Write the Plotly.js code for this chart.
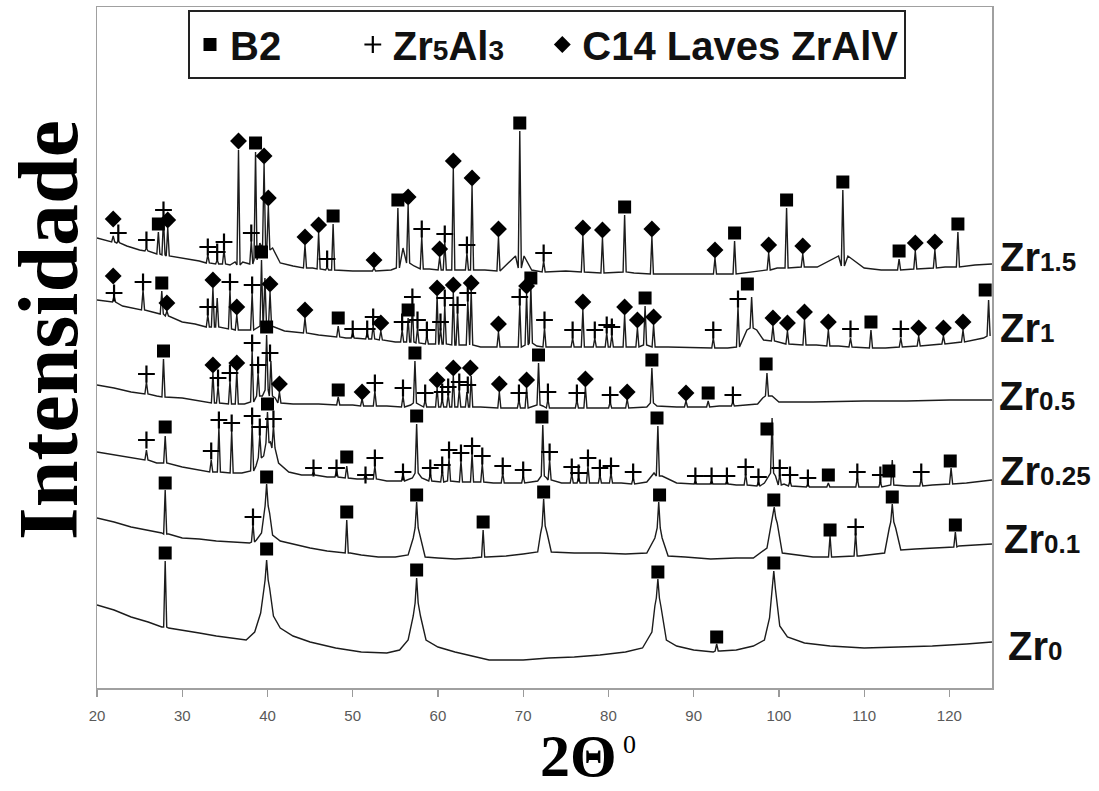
<!DOCTYPE html>
<html>
<head>
<meta charset="utf-8">
<script src="https://cdn.plot.ly/plotly-3.0.1.min.js"></script>
<style>html,body{margin:0;padding:0;background:#fff;}#chart{width:1099px;height:791px;}</style>
</head>
<body>
<div id="chart"></div>
<script>
// ---------------- DATA (intensity in arbitrary units) ----------------
const xTicks = [20, 30, 40, 50, 60, 70, 80, 90, 100, 110, 120];
const sampleNames = ["Zr<span style='font-size:26px'>1.5</span>", "Zr<span style='font-size:26px'>1</span>", "Zr<span style='font-size:26px'>0.5</span>", "Zr<span style='font-size:26px'>0.25</span>", "Zr<span style='font-size:26px'>0.1</span>", "Zr<span style='font-size:26px'>0</span>"];
const sampleLabelY = [431, 360, 292, 217, 149, 42];
const sampleLabelX = [998, 998, 997, 998, 1002, 1006];
const phaseNames = ["B2", "Zr<span style='font-size:28px'>5</span>Al<span style='font-size:28px'>3</span>", "C14 Laves ZrAlV"];

// Zr0
const zr0_bx = [20, 22, 24, 26, 27.6, 28.4, 30, 32, 34, 36, 37.5, 38.5, 39.2, 39.6, 40.25, 40.7, 41.5, 43, 45, 48, 51, 54, 55.5, 56.5, 57.1, 57.95, 58.6, 60, 62, 64, 66, 68, 70, 73, 76, 79, 82, 84, 85.1, 85.45, 86.15, 86.8, 88, 90, 92.3, 93.1, 95, 97, 98.3, 98.9, 99.15, 99.65, 100.1, 101, 103, 106, 110, 114, 118, 122, 125];
const zr0_by = [83, 78, 71, 66, 61, 60, 58, 55, 52, 50, 48, 56, 75, 100, 100, 72, 60, 52, 46, 40, 36, 35, 38, 48, 72, 72, 48, 41, 36, 32, 28, 28, 28, 30, 31, 33, 36, 40, 56, 82, 82, 48, 42, 38, 36, 37, 38, 42, 48, 70, 95, 95, 62, 51, 45, 42, 40, 41, 42, 44, 46];
const zr0_px = [28.0, 39.9, 57.5, 85.8, 92.7, 99.4];
const zr0_pt = [127, 128, 110, 109, 44, 117];
const zr0_pf = [61, 108, 85, 90, 37, 100];
const zr0_B2 = [[28.0, 135], [39.9, 139], [57.5, 118], [85.8, 116], [92.7, 51], [99.4, 125]];
const zr0_Zr5Al3 = [];
const zr0_C14 = [];

// Zr0.1
const zr01_bx = [20, 22, 24, 26, 27.6, 28.4, 30, 32, 34, 36, 37.9, 38.7, 39.3, 39.6, 40.25, 40.6, 41.5, 43, 45, 47, 48.9, 49.7, 51, 53, 55, 56.5, 57.1, 57.95, 58.5, 60, 62, 64, 64.9, 65.7, 68, 70, 71.7, 72.05, 72.8, 73.3, 76, 79, 82, 84.5, 85.45, 86.3, 87, 89, 92, 95, 97, 98.6, 99.1, 99.8, 100.4, 102, 104, 105.6, 106.4, 108.6, 109.4, 111, 112.4, 112.95, 113.7, 114.3, 116, 118, 120.3, 121.1, 123, 125];
const zr01_by = [170, 166, 161, 158, 155, 154, 150, 149, 147, 146, 145, 148, 155, 175, 175, 153, 147, 144, 140, 137, 135, 135, 133, 131, 131, 133, 150, 150, 131, 130, 129, 130, 131, 131, 132, 134, 136, 155, 155, 136, 135, 135, 134, 135, 150, 150, 132, 131, 129, 130, 130, 140, 165, 165, 135, 133, 131, 131, 131, 132, 132, 134, 135, 160, 160, 138, 139, 140, 141, 142, 143, 144];
const zr01_px = [28.0, 38.3, 39.9, 49.3, 57.5, 65.3, 72.4, 85.9, 99.45, 106.0, 109.0, 113.3, 120.7];
const zr01_pt = [198, 164, 204, 168, 186, 158, 189, 186, 181, 152, 155, 184, 156];
const zr01_pf = [154, 146, 182, 135, 160, 131, 162, 160, 170, 131, 132, 166, 141];
const zr01_B2 = [[28.0, 205], [39.9, 211], [49.3, 176], [57.5, 193], [65.3, 166], [72.4, 196], [86.0, 193], [99.4, 188], [106.0, 158], [113.3, 191], [120.7, 163]];
const zr01_Zr5Al3 = [[38.3, 171], [109.0, 161]];
const zr01_C14 = [];

// Zr0.25
const zr025_bx = [20, 22, 24, 27, 30, 32, 37, 38.65, 39.55, 40.35, 41.3, 42.5, 44, 47, 50.5, 54, 57.0, 58.1, 63.4, 66.5, 69, 71.7, 72.75, 74.5, 78.3, 81.5, 84.5, 85.35, 86.3, 88, 91, 95, 98.3, 98.85, 99.6, 100.6, 104.5, 107.5, 110.5, 115, 118, 122, 125];
const zr025_by = [236, 233, 230, 225, 221, 218, 215, 222, 232, 246, 225, 216, 213, 211, 209, 207, 210, 210, 206, 205, 205, 207, 210, 205, 205, 205, 206, 215, 212, 205, 204, 203, 205, 212, 212, 204, 201, 201, 201, 202, 203, 205, 208];
const zr025_px = [25.8, 28.0, 33.4, 34.3, 35.8, 38.2, 39.1, 40.0, 40.7, 45.4, 48.1, 49.3, 51.5, 52.6, 55.9, 57.5, 59.1, 60.5, 61.3, 62.7, 64.0, 65.2, 67.6, 70.0, 72.3, 73.1, 75.7, 76.5, 77.6, 79.0, 80.3, 82.9, 85.8, 90.2, 92.1, 93.9, 96.1, 97.6, 99.2, 100.1, 101.3, 103.4, 105.8, 109.2, 111.9, 113.3, 116.7, 120.2];
const zr025_pt = [238, 252, 228, 260, 257, 264, 253, 276, 262, 216, 217, 222, 214, 222, 214, 264, 214, 218, 230, 227, 234, 224, 215, 212, 263, 228, 214, 210, 222, 213, 215, 210, 262, 207, 207, 207, 214, 206, 270, 214, 207, 204, 205, 210, 206, 228, 209, 220];
const zr025_pf = [228, 225, 216, 216, 215, 217, 230, 245, 240, 213, 211, 210, 209, 209, 207, 215, 207, 206, 207, 206, 206, 206, 205, 205, 212, 208, 205, 205, 205, 205, 205, 204, 212, 204, 204, 204, 203, 202, 215, 203, 202, 201, 201, 201, 201, 203, 202, 204];
const zr025_B2 = [[28.0, 261], [40.0, 284], [49.3, 231], [57.5, 272], [72.2, 271], [85.7, 270], [98.6, 259], [105.8, 213], [112.9, 217], [120.1, 227]];
const zr025_Zr5Al3 = [[25.8, 248], [33.4, 237], [34.3, 268], [35.8, 265], [38.2, 272], [39.1, 261], [40.7, 269], [45.4, 220], [48.1, 220], [51.5, 213], [52.6, 230], [55.9, 216], [59.1, 220], [60.5, 223], [61.3, 238], [62.7, 235], [64.0, 242], [65.2, 232], [67.6, 222], [70.0, 218], [73.1, 236], [75.7, 221], [76.5, 215], [77.6, 230], [79.0, 220], [80.3, 222], [82.9, 216], [90.2, 212], [92.1, 212], [93.9, 212], [96.1, 221], [97.6, 211], [100.1, 220], [101.3, 213], [103.4, 210], [109.2, 216], [111.9, 213], [116.7, 216]];
const zr025_C14 = [];

// Zr0.5
const zr05_bx = [20, 22, 24, 27, 30, 32.5, 37.3, 39.4, 40.9, 43, 46, 50, 54, 56.8, 57.9, 65, 69, 71.3, 72.3, 75, 79, 84.5, 85.7, 88, 93, 97.5, 98.1, 99.2, 100, 104, 110, 115, 120, 125];
const zr05_by = [303, 300, 296, 292, 290, 286, 284, 292, 290, 284, 284, 283, 282, 283, 283, 281, 280, 282, 282, 280, 280, 281, 282, 281, 282, 284, 290, 292, 286, 286, 287, 287, 288, 288];
const zr05_px = [25.8, 27.8, 33.6, 34.2, 35.6, 36.4, 38.2, 38.9, 39.9, 40.4, 41.4, 48.3, 51.1, 52.6, 55.9, 57.3, 58.5, 59.9, 60.5, 61.2, 61.8, 62.5, 63.4, 63.9, 67.2, 69.5, 70.4, 71.8, 72.9, 76.3, 77.3, 80.2, 82.2, 85.1, 89.1, 91.7, 94.6, 98.6];
const zr05_pt = [306, 329, 315, 302, 307, 317, 337, 315, 353, 327, 296, 291, 289, 297, 292, 327, 288, 300, 289, 294, 312, 298, 296, 312, 296, 288, 300, 325, 289, 288, 301, 286, 289, 320, 287, 287, 286, 315];
const zr05_pf = [294, 291, 285, 285, 284, 284, 286, 292, 298, 292, 285, 283, 282, 282, 281, 285, 281, 281, 281, 281, 281, 281, 281, 281, 280, 280, 280, 283, 280, 280, 280, 280, 280, 285, 281, 281, 282, 292];
const zr05_B2 = [[27.8, 337], [39.9, 361], [48.3, 298], [57.3, 335], [71.8, 333], [85.1, 328], [91.7, 295], [98.5, 324]];
const zr05_Zr5Al3 = [[25.8, 314], [34.2, 310], [35.6, 315], [38.2, 345], [38.9, 323], [40.3, 335], [52.6, 305], [55.9, 300], [58.5, 295], [60.5, 296], [61.2, 301], [62.5, 306], [63.5, 303], [69.5, 295], [72.9, 296], [76.3, 295], [80.2, 293], [94.6, 293]];
const zr05_C14 = [[33.6, 323], [36.4, 325], [41.4, 304], [51.1, 296], [59.9, 308], [61.8, 320], [63.8, 320], [67.2, 304], [70.4, 308], [77.3, 309], [82.2, 296], [89.1, 295]];

// Zr1
const zr1_bx = [20, 23, 24.8, 26.5, 30, 31.5, 37.3, 42, 46, 49.2, 55, 65, 68.5, 71.6, 74, 87, 90, 94, 96.25, 97.4, 98.2, 100.3, 104.4, 107, 112.5, 118, 123, 124];
const zr1_by = [388, 382, 379, 376, 366, 364, 358, 357, 353, 350, 346, 341, 341, 342, 341, 341, 340, 340, 358, 358, 348, 345, 343, 342, 340, 343, 348, 350];
const zr1_px = [22.0, 25.4, 27.6, 28.2, 33.0, 33.6, 34.1, 35.6, 36.4, 38.2, 39.3, 39.7, 40.3, 44.4, 48.3, 50.0, 51.7, 52.4, 53.3, 55.8, 56.5, 57.0, 57.6, 58.7, 59.9, 60.3, 60.8, 61.8, 62.3, 63.5, 63.9, 67.1, 69.6, 70.4, 70.9, 72.5, 75.8, 77.0, 78.4, 79.8, 80.4, 81.9, 83.4, 84.3, 85.3, 92.3, 95.2, 96.8, 99.3, 101.0, 103.0, 105.8, 108.4, 110.8, 114.3, 116.4, 119.3, 121.6, 124.6];
const zr1_pt = [392, 398, 397, 377, 373, 400, 390, 398, 373, 395, 428, 410, 396, 370, 362, 355, 355, 363, 357, 358, 370, 383, 360, 352, 392, 360, 382, 395, 375, 387, 397, 356, 383, 394, 402, 360, 350, 378, 350, 355, 353, 373, 360, 382, 363, 350, 381, 391, 362, 357, 368, 358, 350, 358, 350, 352, 352, 358, 388];
const zr1_pf = [386, 378, 374, 372, 361, 361, 361, 359, 358, 358, 362, 365, 362, 355, 351, 350, 349, 349, 348, 346, 346, 346, 345, 344, 344, 344, 344, 343, 343, 343, 343, 341, 341, 343, 345, 341, 341, 341, 341, 341, 341, 341, 341, 343, 341, 340, 341, 360, 347, 344, 343, 342, 341, 340, 341, 342, 344, 346, 352];
const zr1_B2 = [[27.6, 405], [39.3, 436], [48.3, 370], [56.5, 378], [70.9, 410], [84.3, 390], [96.3, 404], [110.8, 366], [124.2, 398]];
const zr1_Zr5Al3 = [[22.0, 395], [25.4, 406], [33.0, 381], [35.6, 406], [38.2, 403], [50.0, 359], [51.7, 359], [52.4, 371], [55.8, 366], [57.0, 391], [57.6, 368], [58.7, 358], [60.3, 366], [60.8, 390], [62.3, 383], [63.5, 395], [69.6, 391], [72.5, 368], [75.8, 358], [78.4, 358], [79.8, 363], [80.4, 361], [92.3, 358], [95.2, 389], [108.4, 359], [114.3, 359]];
const zr1_C14 = [[21.9, 412], [28.2, 385], [33.6, 408], [36.4, 381], [40.3, 404], [44.4, 378], [53.3, 365], [59.9, 400], [61.8, 403], [63.9, 405], [67.1, 364], [70.4, 402], [77.0, 386], [81.9, 381], [83.4, 368], [85.3, 371], [99.3, 370], [101.0, 365], [103.0, 376], [105.8, 366], [116.4, 360], [119.3, 360], [121.6, 366]];

// Zr1.5
const zr15_bx = [20, 23.5, 25, 30, 32, 35.6, 36.2, 37.1, 37.7, 39.1, 40.6, 41.5, 43, 45.3, 50, 54.5, 55.9, 57.2, 59, 65.5, 69.1, 70.1, 71, 75, 83, 88, 96, 99.8, 104.5, 107.0, 108.1, 110, 112, 119.5, 123, 125];
const zr15_by = [450, 442, 438, 430, 427, 423, 426, 426, 424, 445, 440, 425, 422, 420, 417, 418, 440, 422, 419, 418, 432, 432, 418, 417, 415, 414, 415, 420, 421, 432, 432, 420, 418, 421, 423, 424];
const zr15_px = [21.9, 22.5, 25.8, 27.2, 27.8, 28.3, 33.0, 34.1, 34.9, 36.6, 38.1, 38.6, 39.6, 40.1, 44.4, 46.0, 47.0, 47.7, 52.5, 55.3, 56.5, 58.1, 60.2, 60.8, 61.8, 63.4, 64.0, 67.1, 69.6, 72.4, 77.0, 79.3, 81.9, 85.1, 92.5, 94.8, 98.8, 100.9, 102.8, 107.5, 114.1, 116.0, 118.3, 121.0];
const zr15_pt = [452, 447, 440, 456, 470, 460, 433, 428, 438, 538, 447, 536, 524, 482, 443, 455, 421, 464, 420, 480, 483, 451, 431, 446, 519, 435, 502, 451, 557, 427, 452, 450, 473, 451, 430, 447, 435, 480, 434, 498, 429, 437, 438, 456];
const zr15_pf = [446, 445, 437, 434, 433, 432, 425, 424, 424, 423, 424, 428, 440, 438, 420, 419, 418, 418, 417, 420, 425, 419, 418, 418, 418, 418, 418, 417, 420, 416, 416, 415, 416, 414, 414, 414, 418, 420, 421, 422, 418, 419, 420, 421];
const zr15_B2 = [[27.2, 464], [38.6, 545], [47.7, 472], [55.3, 488], [69.6, 565], [81.9, 481], [94.8, 455], [100.9, 488], [107.5, 506], [114.1, 437], [121.0, 464]];
const zr15_Zr5Al3 = [[22.5, 455], [25.8, 448], [27.8, 478], [33.0, 441], [34.1, 436], [34.9, 446], [38.1, 455], [47.0, 429], [58.1, 459], [60.8, 454], [63.4, 443], [72.4, 435]];
const zr15_C14 = [[21.9, 469], [28.3, 468], [36.6, 547], [39.6, 532], [40.1, 490], [44.4, 451], [46.0, 463], [52.5, 428], [56.5, 491], [60.2, 439], [61.8, 527], [64.0, 510], [67.1, 459], [77.0, 460], [79.3, 458], [85.1, 459], [92.5, 438], [98.8, 443], [102.8, 442], [116.0, 445], [118.3, 446]];

// ---------------- BUILD ----------------
const PEAK_HALF_WIDTH = 0.18;
function buildLine(bx, by, px, pt, pf) {
  const pts = [];
  for (let i = 0; i < bx.length; i++) pts.push([bx[i], by[i]]);
  for (let j = 0; j < px.length; j++) {
    pts.push([px[j] - PEAK_HALF_WIDTH, pf[j]]);
    pts.push([px[j], pt[j]]);
    pts.push([px[j] + PEAK_HALF_WIDTH, pf[j]]);
  }
  pts.sort((a, b) => a[0] - b[0]);
  return { x: pts.map(p => p[0]), y: pts.map(p => p[1]) };
}

const samples = [
  [zr15_bx, zr15_by, zr15_px, zr15_pt, zr15_pf],
  [zr1_bx, zr1_by, zr1_px, zr1_pt, zr1_pf],
  [zr05_bx, zr05_by, zr05_px, zr05_pt, zr05_pf],
  [zr025_bx, zr025_by, zr025_px, zr025_pt, zr025_pf],
  [zr01_bx, zr01_by, zr01_px, zr01_pt, zr01_pf],
  [zr0_bx, zr0_by, zr0_px, zr0_pt, zr0_pf]
];

const traces = samples.map((s) => {
  const l = buildLine(s[0], s[1], s[2], s[3], s[4]);
  return { type: 'scatter', mode: 'lines', x: l.x, y: l.y, showlegend: false, hoverinfo: 'skip',
           line: { color: '#1c1c1c', width: 1.4 } };
});

const b2All = [].concat(zr15_B2, zr1_B2, zr05_B2, zr025_B2, zr01_B2, zr0_B2);
const zaAll = [].concat(zr15_Zr5Al3, zr1_Zr5Al3, zr05_Zr5Al3, zr025_Zr5Al3, zr01_Zr5Al3, zr0_Zr5Al3);
const c14All = [].concat(zr15_C14, zr1_C14, zr05_C14, zr025_C14, zr01_C14, zr0_C14);

const pad = n => '&nbsp;'.repeat(n);
traces.push({ type: 'scatter', mode: 'markers', name: phaseNames[0] + pad(6),
  x: b2All.map(p => p[0]), y: b2All.map(p => p[1]),
  marker: { symbol: 'square', size: 13, color: '#000' } });
traces.push({ type: 'scatter', mode: 'markers', name: phaseNames[1] + pad(3),
  x: zaAll.map(p => p[0]), y: zaAll.map(p => p[1]),
  marker: { symbol: 'cross-thin', size: 12, color: '#000', line: { color: '#000', width: 2.2 } } });
traces.push({ type: 'scatter', mode: 'markers', name: phaseNames[2],
  x: c14All.map(p => p[0]), y: c14All.map(p => p[1]),
  marker: { symbol: 'diamond', size: 13, color: '#000' } });

// ---------------- LAYOUT ----------------
const L = 97, R = 107, T = 7, B = 103, W = 1099, H = 791;
const pw = W - L - R, ph = H - T - B;
const px2paper = p => (p - L) / pw;
const py2paper = p => (H - B - p) / ph;

const annotations = sampleNames.map((n, i) => ({
  text: n, xref: 'paper', yref: 'y', x: px2paper(sampleLabelX[i]), y: sampleLabelY[i],
  xanchor: 'left', yanchor: 'middle', showarrow: false,
  font: { family: 'Liberation Sans, Arial, sans-serif', size: 40, color: '#111', weight: 'bold' }
}));
annotations.push({
  text: '<b>Intensidade</b>', textangle: -90, xref: 'paper', yref: 'paper',
  x: px2paper(48), y: py2paper(330), xanchor: 'center', yanchor: 'middle', showarrow: false,
  font: { family: 'Liberation Serif, Times New Roman, serif', size: 84, color: '#000' }
});
annotations.push({
  text: '<b>2Θ</b>', xref: 'paper', yref: 'paper',
  x: px2paper(578), y: py2paper(756), xanchor: 'center', yanchor: 'middle', showarrow: false,
  font: { family: 'Liberation Serif, Times New Roman, serif', size: 60, color: '#000' }
});
annotations.push({
  text: '0', xref: 'paper', yref: 'paper',
  x: px2paper(629), y: py2paper(744), xanchor: 'center', yanchor: 'middle', showarrow: false,
  font: { family: 'Liberation Serif, Times New Roman, serif', size: 26, color: '#000' }
});

const layout = {
  width: W, height: H,
  margin: { l: L, r: R, t: T, b: B, pad: 0 },
  paper_bgcolor: '#fff', plot_bgcolor: '#fff',
  xaxis: {
    range: [20, 125], tickvals: xTicks, ticktext: xTicks.map(String),
    ticks: 'outside', ticklen: 7, tickwidth: 1.2, tickcolor: '#9a9a9a',
    showline: true, mirror: true, linecolor: '#a0a0a0', linewidth: 1.5,
    showgrid: false, zeroline: false, ticklabelstandoff: 6,
    tickfont: { family: 'Liberation Sans Narrow, Liberation Sans, Arial', size: 15, color: '#595959' },
    fixedrange: true
  },
  yaxis: {
    range: [0, 681], showticklabels: false, ticks: '',
    showline: true, mirror: true, linecolor: '#a0a0a0', linewidth: 1.5,
    showgrid: false, zeroline: false, fixedrange: true
  },
  showlegend: true,
  legend: {
    orientation: 'h', x: px2paper(188), xanchor: 'left', y: py2paper(10), yanchor: 'top',
    bgcolor: '#fff', bordercolor: '#222', borderwidth: 2,
    font: { family: 'Liberation Sans, Arial, sans-serif', size: 40, color: '#111', weight: 'bold' },
    itemclick: false, itemdoubleclick: false, tracegroupgap: 0, itemwidth: 30
  },
  annotations: annotations
};

Plotly.newPlot('chart', traces, layout, { displayModeBar: false, staticPlot: true });
</script>
</body>
</html>
